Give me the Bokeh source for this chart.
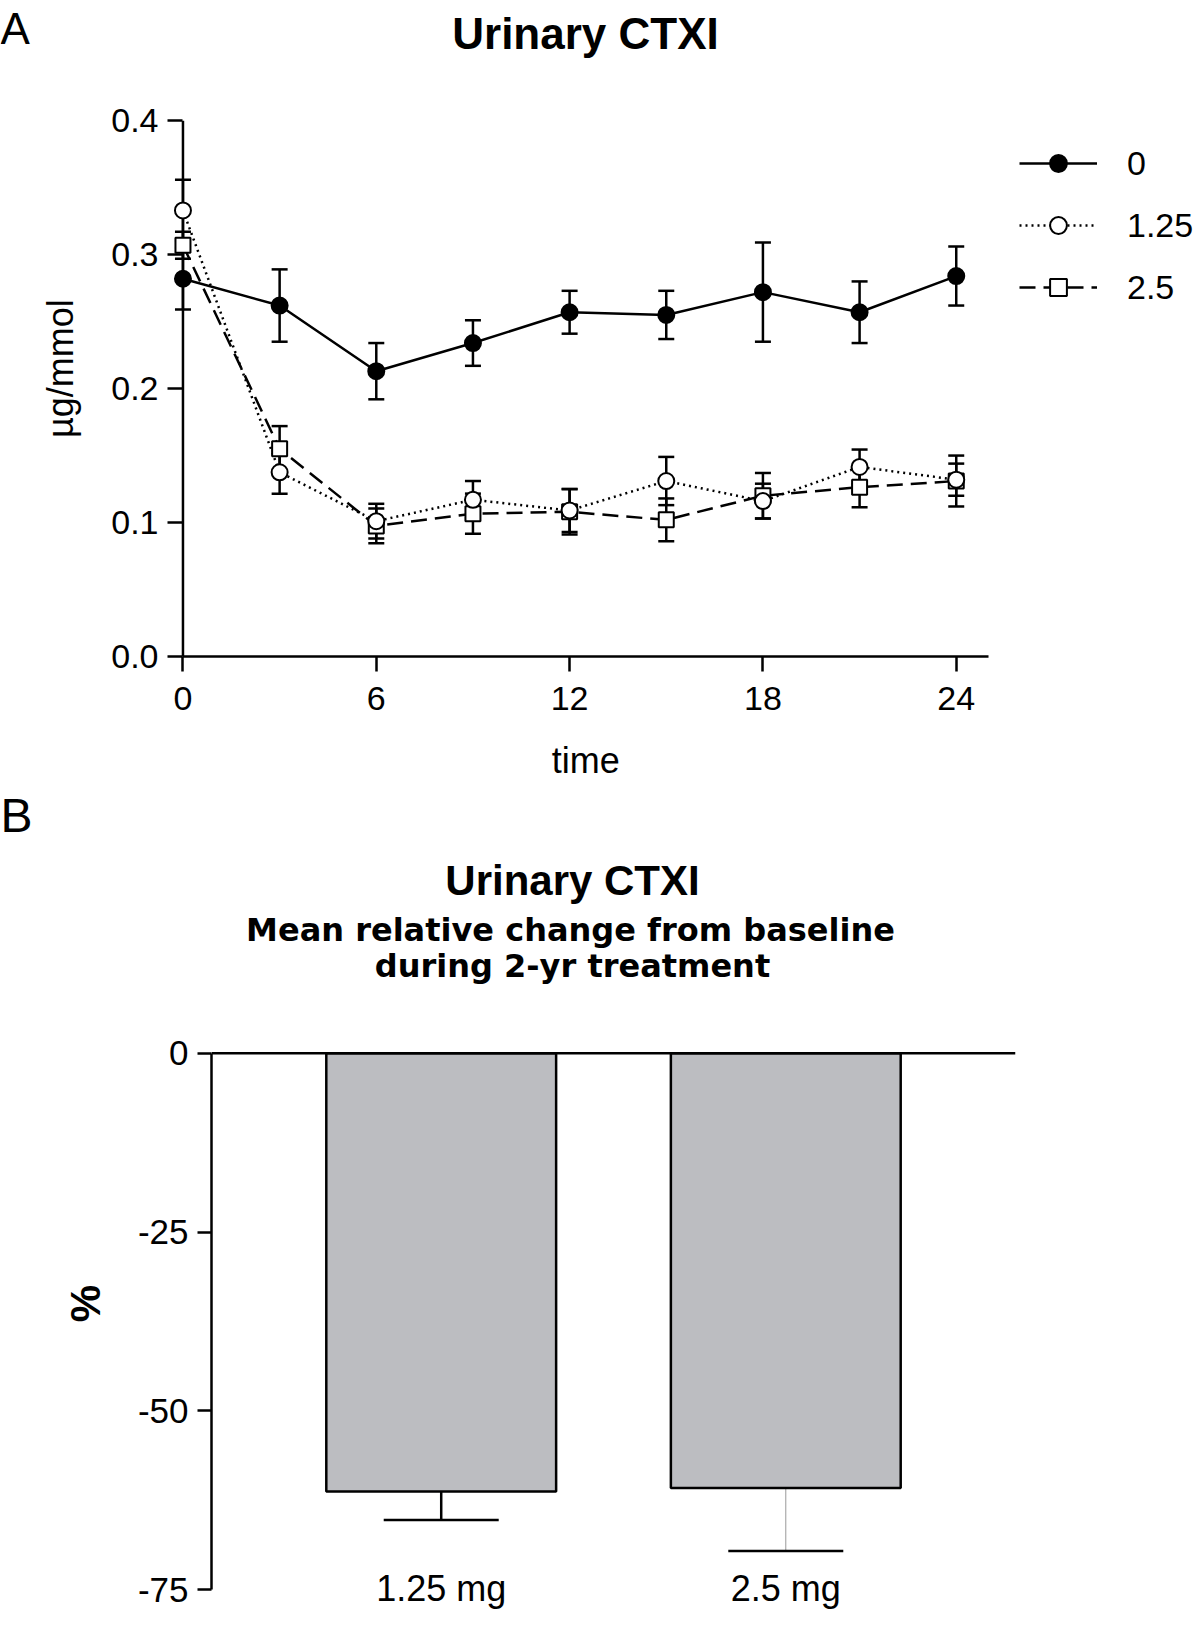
import math
from bokeh.plotting import figure
from bokeh.layouts import column
from bokeh.models import (Range1d, FactorRange, FixedTicker, PrintfTickFormatter,
                          ColumnDataSource, Whisker, TeeHead, Legend, LegendItem,
                          Label, Span)
from bokeh.embed import file_html
from bokeh.resources import INLINE

# ------------------------------------------------------------------ data
# Panel A: urinary CTX-I (µg/mmol) over time (months), mean ± SEM per dose
months = [0, 3, 6, 9, 12, 15, 18, 21, 24]
series_names = ["0", "1.25", "2.5"]
mean_0 = [0.282, 0.262, 0.213, 0.234, 0.257, 0.255, 0.272, 0.257, 0.284]
sem_0 = [0.023, 0.027, 0.021, 0.017, 0.016, 0.018, 0.037, 0.023, 0.022]
mean_125 = [0.333, 0.1375, 0.101, 0.117, 0.109, 0.131, 0.116, 0.1415, 0.132]
sem_125 = [0.023, 0.016, 0.013, 0.014, 0.016, 0.018, 0.013, 0.013, 0.012]
mean_25 = [0.307, 0.155, 0.0975, 0.1066, 0.108, 0.102, 0.120, 0.1264, 0.131]
sem_25 = [0.010, 0.017, 0.013, 0.015, 0.017, 0.016, 0.017, 0.015, 0.019]
time_ticks = [0, 6, 12, 18, 24]
conc_ticks = [0.0, 0.1, 0.2, 0.3, 0.4]

# Panel B: mean relative change from baseline (%), mean ± SEM
bar_categories = ["1.25 mg", "2.5 mg"]
bar_change = [-61.3, -60.8]
bar_sem = [3.97, 8.8]
pct_ticks = [-75, -50, -25, 0]

# ------------------------------------------------------------------ style
FONT = "Liberation Sans"
BOLD_WIDE = "DejaVu Sans"
W = 1200
BASELINE_SHIFT = 0.35   # em; compensates the renderer's text baseline


def header(height):
    """A text-only strip whose data units are its own pixels (y downwards)."""
    h = figure(width=W, height=height, x_range=Range1d(0, W),
               y_range=Range1d(height, 0), output_backend="svg",
               toolbar_location=None, x_axis_type=None, y_axis_type=None,
               min_border=0, min_border_left=0, min_border_right=0,
               min_border_top=0, min_border_bottom=0)
    h.title.visible = False
    h.frame_align = False
    h.outline_line_color = None
    h.xgrid.visible = False
    h.ygrid.visible = False
    return h


def text(fig, x, y, s, size, bold=False, font=FONT, align="left"):
    fig.add_layout(Label(x=x, y=y - BASELINE_SHIFT * size, text=s,
                         text_font=font, text_font_size=f"{size}px",
                         text_font_style="bold" if bold else "normal",
                         text_color="black", text_align=align,
                         text_baseline="alphabetic"))


# ---------------------------------------------------------- panel A header
HA_HEAD = 80
h1 = header(HA_HEAD)
text(h1, 0, 43, "A", 44)
text(h1, 585, 48, "Urinary CTXI", 44, bold=True, align="center")

# ---------------------------------------------------------------- panel A
HA_END = 735
HA = HA_END - HA_HEAD
PX_PER_MONTH = 32.22
PX_PER_UNIT_A = 1340.0
X_START = -0.48
X_AXIS_END = 25.0
Y_TOP_A = 0.43
A_LEFT = 167
A_BOTTOM = round(HA - Y_TOP_A * PX_PER_UNIT_A)
X_END = X_START + (W - A_LEFT) / PX_PER_MONTH

p1 = figure(width=W, height=HA, x_range=Range1d(X_START, X_END),
            y_range=Range1d(0, Y_TOP_A), output_backend="svg",
            toolbar_location=None, min_border_left=A_LEFT,
            min_border_right=0, min_border_top=0,
            min_border_bottom=A_BOTTOM)
p1.title.visible = False
p1.frame_align = False
p1.outline_line_color = None
p1.xgrid.visible = False
p1.ygrid.visible = False

for axis in (p1.xaxis[0], p1.yaxis[0]):
    axis.axis_line_width = 2.5
    axis.major_tick_line_width = 2.5
    axis.minor_tick_line_color = None
    axis.major_label_text_font = FONT
    axis.major_label_text_font_size = "34px"
    axis.major_label_text_color = "black"
    axis.axis_label_text_font = FONT
    axis.axis_label_text_font_size = "36px"
    axis.axis_label_text_font_style = "normal"
    axis.axis_label_text_color = "black"

xa1 = p1.xaxis[0]
xa1.ticker = FixedTicker(ticks=time_ticks)
xa1.bounds = (0, X_AXIS_END)
xa1.major_tick_out = 15
xa1.major_tick_in = 0
xa1.major_label_standoff = 15

# y axis: ticks run from the frame edge to the x = 0 axis line
ya1 = p1.yaxis[0]
ya1.ticker = FixedTicker(ticks=conc_ticks)
ya1.formatter = PrintfTickFormatter(format="%.1f")
ya1.bounds = (conc_ticks[0], conc_ticks[-1])
ya1.axis_line_color = None
ya1.major_tick_out = 0
ya1.major_tick_in = round(-X_START * PX_PER_MONTH)
ya1.axis_label = "µg/mmol"
ya1.major_label_standoff = 9
ya1.axis_label_standoff = 27

p1.segment(x0=[0], y0=[conc_ticks[0]], x1=[0], y1=[conc_ticks[-1]],
           line_color="black", line_width=2.5)

series = [
    (mean_0, sem_0, "solid", "circle", "black", 16),
    (mean_125, sem_125, "2 4", "circle", "white", 16),
    (mean_25, sem_25, "16 8", "square", "white", 15),
]

line_r = []
for mean, sem, dash, marker, fill, size in series:
    line_r.append(p1.line(months, mean, line_color="black", line_width=2.5,
                          line_dash=dash))
    src = ColumnDataSource(dict(
        x=months,
        upper=[m + s for m, s in zip(mean, sem)],
        lower=[m - s for m, s in zip(mean, sem)]))
    w = Whisker(source=src, base="x", upper="upper", lower="lower",
                dimension="height", line_color="black", line_width=2.5,
                level="underlay",
                upper_head=TeeHead(size=16, line_width=2.5, line_color="black"),
                lower_head=TeeHead(size=16, line_width=2.5, line_color="black"))
    p1.add_layout(w)

pt_r = [None, None, None]
for idx in (2, 1, 0):
    mean, sem, dash, marker, fill, size = series[idx]
    pt_r[idx] = p1.scatter(months, mean, marker=marker, size=size,
                           fill_color=fill, line_color="black", line_width=2)

legend = Legend(
    items=[LegendItem(label=name, renderers=[line_r[i], pt_r[i]])
           for i, name in enumerate(series_names)],
    location=(852, 348), orientation="vertical",
    glyph_width=78, glyph_height=42, label_standoff=30, spacing=20,
    padding=0, margin=0, border_line_color=None, background_fill_alpha=0,
    label_text_font=FONT, label_text_font_size="34px",
    label_text_color="black")
p1.add_layout(legend)

# ---------------------------------------------------------- panel B header
HB_HEAD_END = 995
HB_HEAD = HB_HEAD_END - HA_END
h2 = header(HB_HEAD)
# x-axis title of panel A, centred under its axis (0 .. 25 months)
text(h2, A_LEFT + (X_AXIS_END / 2 - X_START) * PX_PER_MONTH, 773 - HA_END,
     "time", 36, align="center")
text(h2, 0, 832 - HA_END, "B", 48)
text(h2, 572, 895 - HA_END, "Urinary CTXI", 42, bold=True, align="center")
text(h2, 570, 941 - HA_END, "Mean relative change from baseline", 32,
     bold=True, font=BOLD_WIDE, align="center")
text(h2, 572, 977 - HA_END, "during 2-yr treatment", 32, bold=True,
     font=BOLD_WIDE, align="center")

# ---------------------------------------------------------------- panel B
HB = 1648 - HB_HEAD_END
PAD = 1 / 6
Y_TOP_B = 5
B_LEFT, B_RIGHT, B_BOTTOM = 211, 185, 59
PX_PER_PCT = 7.155
B_TOP = round(HB - B_BOTTOM - (Y_TOP_B + 75) * PX_PER_PCT)

p2 = figure(width=W, height=HB,
            x_range=FactorRange(factors=bar_categories, range_padding=PAD,
                                range_padding_units="absolute"),
            y_range=Range1d(pct_ticks[0], Y_TOP_B), output_backend="svg",
            toolbar_location=None, min_border_left=B_LEFT,
            min_border_right=B_RIGHT, min_border_top=B_TOP,
            min_border_bottom=B_BOTTOM)
p2.title.visible = False
p2.frame_align = False
p2.outline_line_color = None
p2.xgrid.visible = False
p2.ygrid.visible = False

p2.vbar(x=bar_categories, top=0, bottom=bar_change, width=0.667,
        fill_color="#bcbdc1", line_color="black", line_width=2.5)

stem_colors = ["black", "#9a9a9a"]
stem_widths = [2.5, 1]
for i, cat in enumerate(bar_categories):
    src = ColumnDataSource(dict(base=[cat], upper=[bar_change[i]],
                                lower=[bar_change[i] - bar_sem[i]]))
    p2.add_layout(Whisker(source=src, base="base", upper="upper",
                          lower="lower", dimension="height",
                          line_color=stem_colors[i], line_width=stem_widths[i],
                          upper_head=None,
                          lower_head=TeeHead(size=115, line_width=2.5,
                                             line_color="black")))

p2.add_layout(Span(location=0, dimension="width", line_color="black",
                   line_width=2.5))

ya = p2.yaxis[0]
ya.ticker = FixedTicker(ticks=pct_ticks)
ya.formatter = PrintfTickFormatter(format="%d")
ya.bounds = (pct_ticks[0], pct_ticks[-1])
ya.axis_line_width = 2.5
ya.major_tick_line_width = 2.5
ya.major_tick_out = 14
ya.major_tick_in = 0
ya.minor_tick_line_color = None
ya.major_label_text_font = FONT
ya.major_label_text_font_size = "35px"
ya.major_label_text_color = "black"
ya.major_label_standoff = 9
ya.axis_label = "%"
ya.axis_label_text_font = FONT
ya.axis_label_text_font_size = "42px"
ya.axis_label_text_font_style = "bold"
ya.axis_label_text_color = "black"
ya.axis_label_standoff = 26

xa = p2.xaxis[0]
xa.axis_line_color = None
xa.major_tick_line_color = None
xa.minor_tick_line_color = None
xa.major_label_text_font = FONT
xa.major_label_text_font_size = "36px"
xa.major_label_text_color = "black"
xa.major_label_standoff = -28

layout = column(h1, p1, h2, p2)
open("out.html", "w").write(file_html(layout, INLINE))
